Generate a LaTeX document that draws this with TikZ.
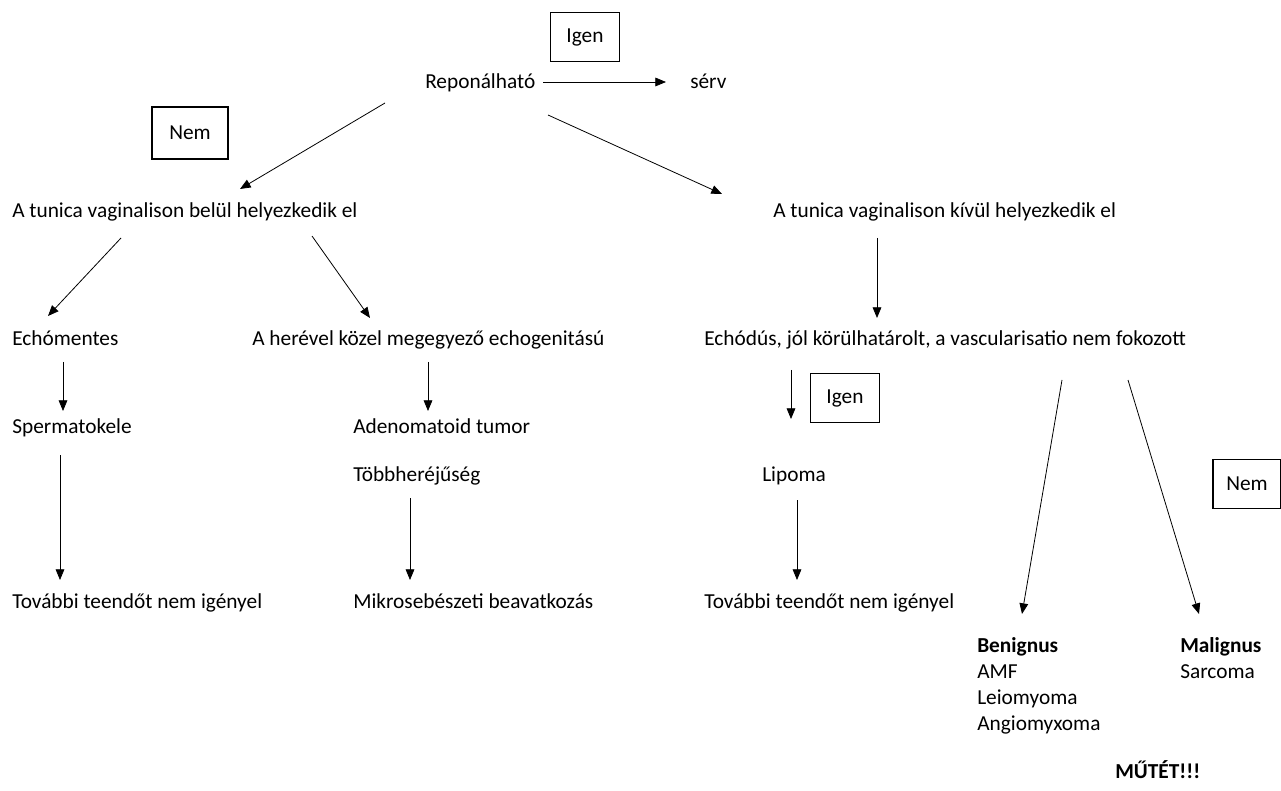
\documentclass[tikz,border=0pt]{standalone}
\usepackage{fontspec}
\setmainfont{Carlito}
\usetikzlibrary{arrows.meta}
\tikzset{
  txt/.style={anchor=base west,inner sep=0pt,font=\fontsize{16}{19.5}\selectfont},
  valasz/.style={draw,line width=0.8pt,minimum width=52pt,minimum height=37pt,
    inner sep=0pt,font=\fontsize{16}{19.5}\selectfont},
  nyil/.style={line width=0.6pt,-{Triangle[length=8pt,width=6.5pt]}}
}
\begin{document}
\begin{tikzpicture}[x=0.75pt,y=-0.75pt]
\useasboundingbox (0,0) rectangle (1281,791);

% felso szint
\node[valasz] (igen1) at (585,37) {Igen};
\node[txt] (repon) at (425,89) {Reponálható};
\node[txt] (serv) at (690,89) {sérv};
\node[valasz,minimum width=57pt,minimum height=39pt] (nem1) at (190,133) {Nem};
\coordinate (r1) at (543,82); \coordinate (r2) at (666,82);
\draw[nyil] (r1) -- (r2);

\node[txt] (belul) at (12,218) {A tunica vaginalison belül helyezkedik el};
\node[txt] (kivul) at (773,218) {A tunica vaginalison kívül helyezkedik el};
\coordinate (a1) at (385,103); \coordinate (a2) at (240,189);
\coordinate (b1) at (548,115); \coordinate (b2) at (722,194);
\draw[nyil] (a1) -- (a2);
\draw[nyil] (b1) -- (b2);

% masodik szint
\node[txt] (echom) at (12,346) {Echómentes};
\node[txt] (herevel) at (252,346) {A herével közel megegyező echogenitású};
\node[txt] (echod) at (704,346) {Echódús, jól körülhatárolt, a vascularisatio nem fokozott};
\coordinate (c1) at (121,238); \coordinate (c2) at (48,316);
\coordinate (d1) at (312,236); \coordinate (d2) at (370,318);
\coordinate (e1) at (877,238); \coordinate (e2) at (877,318);
\draw[nyil] (c1) -- (c2);
\draw[nyil] (d1) -- (d2);
\draw[nyil] (e1) -- (e2);

% harmadik szint
\node[txt] (sperma) at (12,433) {Spermatokele};
\node[txt] (adeno) at (353,433) {Adenomatoid tumor};
\node[txt] (tobb) at (353,481) {Többheréjűség};
\node[txt] (lipoma) at (762,481) {Lipoma};
\node[valasz] (igen2) at (845,398) {Igen};
\node[valasz,minimum width=51pt] (nem2) at (1247,484) {Nem};
\coordinate (f1) at (63,362); \coordinate (f2) at (63,411);
\coordinate (g1) at (428,362); \coordinate (g2) at (428,411);
\coordinate (h1) at (791,370); \coordinate (h2) at (791,419);
\draw[nyil] (f1) -- (f2);
\draw[nyil] (g1) -- (g2);
\draw[nyil] (h1) -- (h2);

% negyedik szint
\node[txt] (tovabb1) at (12,608) {További teendőt nem igényel};
\node[txt] (mikro) at (353,608) {Mikrosebészeti beavatkozás};
\node[txt] (tovabb2) at (704,608) {További teendőt nem igényel};
\coordinate (i1) at (60,455); \coordinate (i2) at (60,580);
\coordinate (j1) at (410,498); \coordinate (j2) at (410,580);
\coordinate (k1) at (797,500); \coordinate (k2) at (797,580);
\draw[nyil] (i1) -- (i2);
\draw[nyil] (j1) -- (j2);
\draw[nyil] (k1) -- (k2);

% benignus / malignus
\node[txt,align=left] (benign) at (977,730)
  {\textbf{Benignus}\\AMF\\Leiomyoma\\Angiomyxoma};
\node[txt,align=left] (malign) at (1180,678)
  {\textbf{Malignus}\\Sarcoma};
\coordinate (m1) at (1062,380); \coordinate (m2) at (1022,614);
\coordinate (n1) at (1128,380); \coordinate (n2) at (1199,614);
\draw[nyil] (m1) -- (m2);
\draw[nyil] (n1) -- (n2);

\node[txt,font=\fontsize{16}{19.5}\selectfont\bfseries] (mutet) at (1115,778) {MŰTÉT!!!};
\end{tikzpicture}
\end{document}
